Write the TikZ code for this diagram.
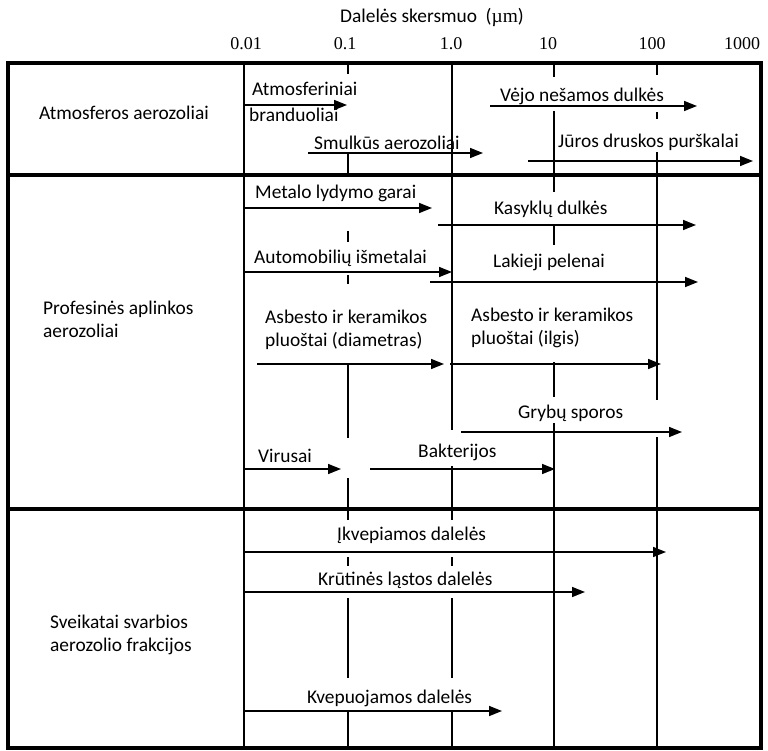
\documentclass[tikz,border=0pt]{standalone}
\usepackage{fontspec}
\setmainfont{Carlito}
\newfontfamily\serifnum{Liberation Serif}
\usetikzlibrary{arrows.meta}
\begin{document}
\begin{tikzpicture}[x=1pt,y=-1pt,
  lbl/.style={font=\fontsize{19.4}{23}\selectfont, inner sep=0pt, anchor=base west},
  lbltwo/.style={font=\fontsize{19.4}{23}\selectfont, inner sep=0pt, anchor=west, align=left},
  ctr/.style={font=\fontsize{19.4}{23}\selectfont, inner sep=0pt, anchor=base},
  tick/.style={font=\serifnum\fontsize{18}{20}\selectfont, inner sep=0pt, anchor=base},
  gridline/.style={line width=1.5pt},
  bar/.style={line width=1.5pt, -{Triangle[length=13pt,width=10pt]}},
  frameline/.style={line width=4pt}]
\useasboundingbox (0,0) rectangle (768,751);
\fill[white] (0,0) rectangle (768,751);

% header
\node[ctr] (title) at (432,23) {Dalelės skersmuo\ \ ({\serifnum µm})};
\node[tick] (t1) at (246,50) {0.01};
\node[tick] (t2) at (345,50) {0.1};
\node[tick] (t3) at (451,50) {1.0};
\node[tick] (t4) at (548,50) {10};
\node[tick] (t5) at (652,50) {100};
\node[tick] (t6) at (742,50) {1000};

% vertical grid lines (with gaps where labels sit)
\draw[gridline] (244,63) -- (244,748);
% 0.1
\draw[gridline] (348,63) -- (348,74);
\draw[gridline] (348,153) -- (348,175);
\draw[gridline] (348,231) -- (348,242);
\draw[gridline] (348,275) -- (348,284);
\draw[gridline] (348,363) -- (348,438);
\draw[gridline] (348,478) -- (348,509);
\draw[gridline] (348,509) -- (348,520);
\draw[gridline] (348,557) -- (348,566);
\draw[gridline] (348,598) -- (348,678);
\draw[gridline] (348,712) -- (348,748);
% 1.0
\draw[gridline] (452,63) -- (452,430);
\draw[gridline] (452,466) -- (452,520);
\draw[gridline] (452,557) -- (452,566);
\draw[gridline] (452,598) -- (452,678);
\draw[gridline] (452,712) -- (452,748);
% 10
\draw[gridline] (554,63) -- (554,77);
\draw[gridline] (554,111) -- (554,192);
\draw[gridline] (554,225) -- (554,245);
\draw[gridline] (554,362) -- (554,397);
\draw[gridline] (554,423) -- (554,748);
% 100
\draw[gridline] (657,63) -- (657,75);
\draw[gridline] (657,112) -- (657,119);
\draw[gridline] (657,152) -- (657,400);
\draw[gridline] (657,437) -- (657,748);

% frame and section dividers
\draw[frameline] (8,63) rectangle (761,748);
\draw[frameline] (8,175) -- (761,175);
\draw[frameline] (8,509) -- (761,509);

% ---- Section 1
\node[lbl] (s1) at (39,120) {Atmosferos aerozoliai};
\node[lbl] (a1) at (252,96) {Atmosferiniai};
\node[lbl] (a1b) at (249,122) {branduoliai};
\draw[bar] (244,105) -- (347,105);
\node[lbl] (a2) at (500,102) {Vėjo nešamos dulkės};
\draw[bar] (490,106) -- (697,106);
\node[lbl] (a3) at (314,150) {Smulkūs aerozoliai};
\draw[bar] (308,153) -- (483,153);
\node[lbl] (a4) at (558,148) {Jūros druskos purškalai};
\draw[bar] (528,161) -- (753,161);

% ---- Section 2
\node[lbltwo] (s2) at (43,319) {Profesinės aplinkos\\aerozoliai};
\node[lbl] (b1) at (255,199) {Metalo lydymo garai};
\draw[bar] (244,208) -- (432,208);
\node[lbl] (b2) at (494,215) {Kasyklų dulkės};
\draw[bar] (438,225) -- (696,225);
\node[lbl] (b3) at (254,264) {Automobilių išmetalai};
\draw[bar] (244,272) -- (452,272);
\node[lbl] (b4) at (493,268) {Lakieji pelenai};
\draw[bar] (430,282) -- (698,282);
\node[lbltwo] (b5) at (265,330) {Asbesto ir keramikos\\pluoštai (diametras)};
\draw[bar] (257,364) -- (444,364);
\node[lbltwo] (b6) at (471,328) {Asbesto ir keramikos\\pluoštai (ilgis)};
\draw[bar] (450,364) -- (661,364);
\node[lbl] (b7) at (518,418) {Grybų sporos};
\draw[bar] (461,432) -- (682,432);
\node[lbl] (b8) at (258,462) {Virusai};
\draw[bar] (244,469) -- (341,469);
\node[lbl] (b9) at (418,457) {Bakterijos};
\draw[bar] (370,469) -- (555,469);

% ---- Section 3
\node[lbltwo] (s3) at (50,635) {Sveikatai svarbios\\aerozolio frakcijos};
\node[lbl] (c1) at (337,540) {Įkvepiamos dalelės};
\draw[bar] (244,552) -- (666,552);
\node[lbl] (c2) at (318,585) {Krūtinės ląstos dalelės};
\draw[bar] (244,592) -- (585,592);
\node[lbl] (c3) at (307,703) {Kvepuojamos dalelės};
\draw[bar] (244,711) -- (502,711);
\end{tikzpicture}
\end{document}
